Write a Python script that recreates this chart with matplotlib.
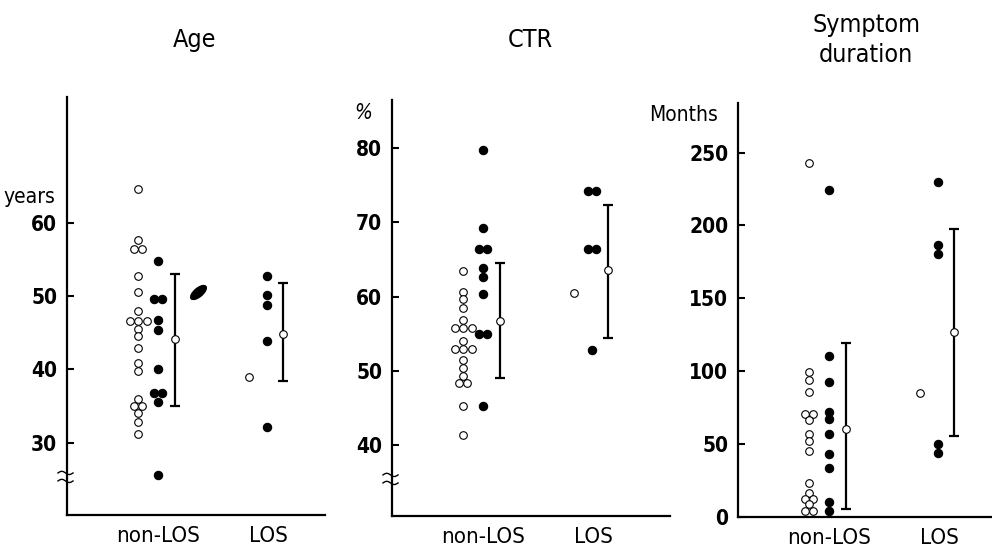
import numpy as np
import matplotlib
matplotlib.use("Agg")
import matplotlib.pyplot as plt
from matplotlib import font_manager
from matplotlib.markers import MarkerStyle
from matplotlib.transforms import Affine2D, blended_transform_factory

# Dados
age_non_open = [64.6, 57.6, 56.4, 56.4, 52.8, 50.5, 47.9, 46.6, 46.6, 46.6, 45.5, 44.5,
                42.9, 40.9, 39.8, 36.0, 35.0, 35.0, 34.1, 32.8, 31.1]
age_non_black = [54.8, 49.6, 49.6, 46.7, 45.4, 40.0, 36.8, 36.8, 35.5, 25.6]
age_los_open = [38.9]
age_los_black = [52.8, 50.1, 48.8, 43.9, 32.1]
age_stats = [(44.1, 35.0, 53.0), (44.8, 38.4, 51.8)]  # media, min, max

ctr_non_open = [63.5, 60.6, 59.6, 58.4, 56.8, 55.7, 55.7, 55.7, 54.0, 52.9, 52.9, 52.9,
                51.5, 50.4, 49.3, 48.3, 48.3, 45.2, 41.3]
ctr_non_black = [79.7, 69.3, 66.4, 66.4, 63.9, 62.6, 60.4, 55.0, 55.0, 45.2]
ctr_los_open = [60.5]
ctr_los_black = [74.2, 74.2, 66.4, 66.4, 52.8]
ctr_stats = [(56.7, 49.0, 64.5), (63.6, 54.4, 72.3)]

sym_non_open = [243, 99.5, 94, 86, 71, 71, 66.5, 57, 52, 45.5, 23, 16.5, 12.6, 12.6,
                8.7, 4, 4]
sym_non_black = [224.5, 110.7, 92.4, 72, 67, 57, 43, 33.7, 10, 4]
sym_los_open = [84.8]
sym_los_black = [229.6, 186.7, 180.3, 50, 44]
sym_stats = [(60.3, 5.3, 119.2), (126.7, 55.7, 197.5)]

grupos = ['non-LOS', 'LOS']

# Fonte estreita se existir, senao Liberation Sans
fontes = font_manager.fontManager.ttflist
tem_cond = any(f.name == 'DejaVu Sans' and 'condensed' in str(f.stretch) for f in fontes)
if tem_cond:
    plt.rcParams['font.family'] = ['DejaVu Sans']
    plt.rcParams['font.stretch'] = 'condensed'
else:
    plt.rcParams['font.family'] = ['Liberation Sans', 'DejaVu Sans']

W, H = 992, 551
fig = plt.figure(figsize=(W / 100, H / 100), dpi=100)


def eixo(x0, x1, ytop, ybot):
    return fig.add_axes([x0 / W, 1 - ybot / H, (x1 - x0) / W, (ybot - ytop) / H])


def espalhar(vals, passo=8.5):
    # pontos com mesmo valor ficam lado a lado
    vals = np.asarray(vals, dtype=float)
    off = np.zeros(len(vals))
    for v in np.unique(vals):
        idx = np.where(vals == v)[0]
        n = len(idx)
        off[idx] = (np.arange(n) - (n - 1) / 2) * passo
    return off


def painel(ax, largura, non_open, non_black, los_open, los_black, stats, ylim, ticks):
    # posicoes das colunas (em px dentro do painel)
    cols = [(71, 91, 108), (182, 200, 216)]
    dados = [(non_open, non_black), (los_open, los_black)]
    for (xo, xb, xm), (op, bl), (m, lo, hi) in zip(cols, dados, stats):
        ax.scatter(xo + espalhar(op), op, s=30, facecolor='white', edgecolor='black',
                   linewidth=0.8, zorder=3)
        ax.scatter(xb + espalhar(bl), bl, s=36, facecolor='black', edgecolor='black',
                   linewidth=0.8, zorder=3)
        ax.errorbar([xm], [m], yerr=[[m - lo], [hi - m]], fmt='none', ecolor='black',
                    elinewidth=1.6, capsize=3.8, capthick=1.6, zorder=2)
        ax.scatter([xm], [m], s=30, facecolor='white', edgecolor='black', linewidth=0.8,
                   zorder=4)
    ax.set_xlim(0, largura)
    ax.set_ylim(*ylim)
    ax.set_yticks(ticks)
    ax.set_yticklabels([str(t) for t in ticks], fontsize=15, fontweight='bold')
    ax.set_xticks([91, 201])
    ax.set_xticklabels(grupos, fontsize=16)
    ax.tick_params(axis='x', length=0, pad=8)
    ax.tick_params(axis='y', direction='in', length=5, width=1.5, pad=7)
    for s in ['top', 'right']:
        ax.spines[s].set_visible(False)
    for s in ['left', 'bottom']:
        ax.spines[s].set_linewidth(1.6)


def quebra(ax, largura, valor, escala):
    # simbolo de quebra no eixo y
    tr = blended_transform_factory(ax.transAxes, ax.transData)
    xs = np.linspace(-9, 6, 30)
    onda = np.sin((xs + 9) / 15 * 2 * np.pi) * 1.6
    for d in (-4, 4):
        ax.plot(xs / largura, valor + (d + onda) / escala, color='black', lw=1.0,
                transform=tr, clip_on=False, zorder=5)


# Painel 1: Age
ax1 = eixo(67, 325, 97, 515)
painel(ax1, 258, age_non_open, age_non_black, age_los_open, age_los_black, age_stats,
       (20.1, 77.2), [30, 40, 50, 60])
quebra(ax1, 258, 25.3, 7.32)
folha = MarkerStyle('o', transform=Affine2D().scale(1.0, 0.45).rotate_deg(40))
ax1.scatter([131], [50.6], s=190, marker=folha, color='black', zorder=3)
ax1.text(-0.045, 63.6, 'years', transform=blended_transform_factory(ax1.transAxes, ax1.transData),
         ha='right', va='center', fontsize=15)

# Painel 2: CTR
ax2 = eixo(392, 670, 100, 516)
painel(ax2, 278, ctr_non_open, ctr_non_black, ctr_los_open, ctr_los_black, ctr_stats,
       (30.4, 86.5), [40, 50, 60, 70, 80])
quebra(ax2, 278, 35.4, 7.41)
ax2.text(-0.104, 84.7, '%', transform=blended_transform_factory(ax2.transAxes, ax2.transData),
         ha='center', va='center', fontsize=15, style='italic')

# Painel 3: Symptom duration
ax3 = eixo(738, 992, 103, 517)
painel(ax3, 254, sym_non_open, sym_non_black, sym_los_open, sym_los_black, sym_stats,
       (0, 284), [0, 50, 100, 150, 200, 250])
ax3.text(-0.08, 276, 'Months', transform=blended_transform_factory(ax3.transAxes, ax3.transData),
         ha='right', va='center', fontsize=15)

# Titulos
fig.text(195 / W, 1 - 40 / H, 'Age', ha='center', va='center', fontsize=18)
fig.text(530 / W, 1 - 40 / H, 'CTR', ha='center', va='center', fontsize=18)
fig.text(866 / W, 1 - 40 / H, 'Symptom\nduration', ha='center', va='center', fontsize=18,
         linespacing=1.3)

fig.savefig('out.png', dpi=100)
